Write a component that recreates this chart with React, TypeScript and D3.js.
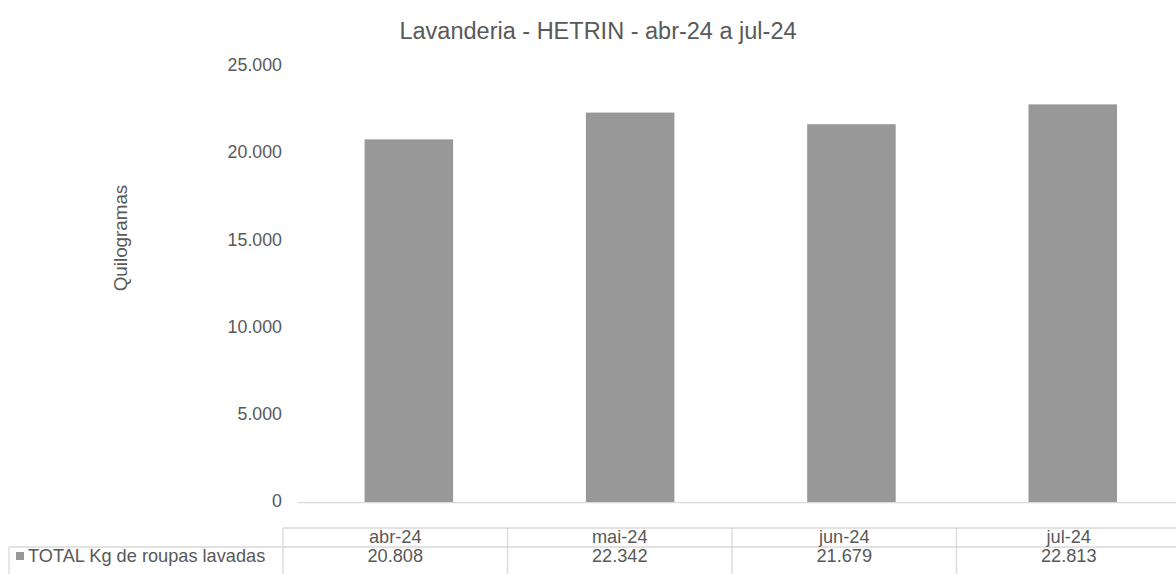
import React from "react";
import * as d3 from "d3";

const title = "Lavanderia - HETRIN - abr-24 a jul-24";
const yAxisTitle = "Quilogramas";
const seriesName = "TOTAL Kg de roupas lavadas";
const categories = ["abr-24", "mai-24", "jun-24", "jul-24"];
const values = [20808, 22342, 21679, 22813];
const yTicks = [0, 5000, 10000, 15000, 20000, 25000];

const W = 1176;
const H = 574;
const FONT = "'Liberation Sans', Arial, sans-serif";
const TEXT = "#595959";
const LINE = "#d9d9d9";
const BAR = "#989898";

const fmt = (v: number) => d3.format(",")(v).replace(/,/g, ".");

export default function App() {
  const y = d3.scaleLinear().domain([0, 25000]).range([502.7, 66.2]);
  const x = d3
    .scaleBand<string>()
    .domain(categories)
    .range([298.2, 1183.4])
    .paddingInner(0.6)
    .paddingOuter(0.3);

  const tableLeft = 283;
  const colW = 224.5;
  const row1Top = 528;
  const row2Top = 547;
  const rowH = 19;
  const legendLeft = 9;

  return (
    <svg
      width={W}
      height={H}
      style={{ position: "absolute", left: 0, top: 0, background: "#fff" }}
      fontFamily={FONT}
    >
      <rect x={0} y={0} width={W} height={H} fill="#fff" />
      <text x={598} y={33} textAnchor="middle" dominantBaseline="middle" fontSize={23.5} fill={TEXT}>
        {title}
      </text>
      <text
        transform={`translate(122,238) rotate(-90)`}
        textAnchor="middle"
        dominantBaseline="middle"
        fontSize={18.8}
        fill={TEXT}
      >
        {yAxisTitle}
      </text>
      {yTicks.map((t) => (
        <text
          key={t}
          x={282}
          y={y(t)}
          textAnchor="end"
          dominantBaseline="middle"
          fontSize={17.8}
          fill={TEXT}
        >
          {fmt(t)}
        </text>
      ))}
      {categories.map((c, i) => (
        <rect
          key={c}
          x={x(c)}
          y={y(values[i])}
          width={x.bandwidth()}
          height={y(0) - y(values[i])}
          fill={BAR}
        />
      ))}
      <line x1={298} x2={W} y1={y(0)} y2={y(0)} stroke={LINE} strokeWidth={1.3} />

      {/* data table */}
      <g stroke={LINE} strokeWidth={1.3} fill="none">
        <line x1={tableLeft} x2={W} y1={row1Top} y2={row1Top} />
        <line x1={legendLeft} x2={W} y1={row2Top} y2={row2Top} />
        <line x1={tableLeft} x2={tableLeft} y1={row1Top} y2={H} />
        <line x1={legendLeft} x2={legendLeft} y1={row2Top} y2={H} />
        {categories.map((c, i) => (
          <line
            key={c}
            x1={tableLeft + colW * (i + 1)}
            x2={tableLeft + colW * (i + 1)}
            y1={row1Top}
            y2={H}
          />
        ))}
      </g>
      {categories.map((c, i) => (
        <g key={c}>
          <text
            x={tableLeft + colW * (i + 0.5)}
            y={row1Top + rowH / 2 + 0.5}
            textAnchor="middle"
            dominantBaseline="middle"
            fontSize={18.2}
            fill={TEXT}
          >
            {c}
          </text>
          <text
            x={tableLeft + colW * (i + 0.5)}
            y={row2Top + rowH / 2 + 0.5}
            textAnchor="middle"
            dominantBaseline="middle"
            fontSize={18.2}
            fill={TEXT}
          >
            {fmt(values[i])}
          </text>
        </g>
      ))}
      <rect x={16} y={552} width={8} height={8} fill={BAR} />
      <text x={28} y={row2Top + rowH / 2 + 0.5} dominantBaseline="middle" fontSize={18.2} fill={TEXT}>
        {seriesName}
      </text>
    </svg>
  );
}
